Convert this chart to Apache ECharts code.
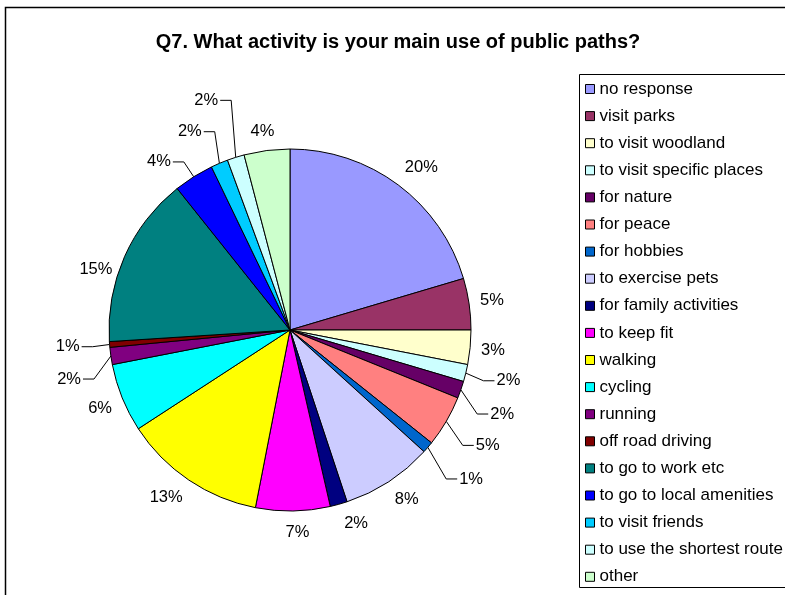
<!DOCTYPE html>
<html>
<head>
<meta charset="utf-8">
<script src="https://cdn.jsdelivr.net/npm/echarts@6/dist/echarts.min.js"></script>
<style>
  html, body { margin: 0; padding: 0; background: #ffffff; }
  #chart { width: 785px; height: 595px; }
</style>
</head>
<body>
<div id="chart"></div>
<script>
// Survey question 7: main use of public paths (number of responses per answer)
const activities = [
  'no response', 'visit parks', 'to visit woodland', 'to visit specific places',
  'for nature', 'for peace', 'for hobbies', 'to exercise pets',
  'for family activities', 'to keep fit', 'walking', 'cycling', 'running',
  'off road driving', 'to go to work etc', 'to go to local amenities',
  'to visit friends', 'to use the shortest route', 'other'
];
const responses = [40, 9, 6, 3, 3, 9, 2, 16, 3, 13, 25, 12, 3, 1, 30, 7, 3, 3, 8];

const sliceColors = [
  '#9999FF', '#993366', '#FFFFCC', '#CCFFFF', '#660066', '#FF8080', '#0066CC',
  '#CCCCFF', '#000080', '#FF00FF', '#FFFF00', '#00FFFF', '#800080', '#800000',
  '#008080', '#0000FF', '#00CCFF', '#CCFFFF', '#CCFFCC'
];

// Small slices whose labels are pulled away and joined by a leader line
const leaderLabels = [
  'to visit specific places', 'for nature', 'for peace', 'for hobbies',
  'running', 'off road driving', 'to go to local amenities',
  'to visit friends', 'to use the shortest route'
];
// Extra label offsets [dx, dy] in px, to keep crowded labels apart
const labelNudge = {
  'to visit specific places': [20, 1],
  'for nature': [19, 15],
  'for peace': [20, 10],
  'for hobbies': [23, 16],
  'for family activities': [8, 0],
  'to keep fit': [4, 2],
  'running': [-19, 19],
  'off road driving': [-19, 0],
  'to go to work etc': [-2, 24],
  'to go to local amenities': [-17, 3],
  'to visit friends': [-16, -13],
  'to use the shortest route': [-19, -38]
};

const CX = 290, CY = 330, RADIUS = 181, LABEL_R = 192;
const FONT = '"Liberation Sans", Arial, Helvetica, sans-serif';

const total = responses.reduce((a, b) => a + b, 0);
const midAngles = [];
let acc = 0;
responses.forEach(v => { midAngles.push((acc + v / 2) / total * 2 * Math.PI); acc += v; });
const clamp = v => Math.max(-1, Math.min(1, v));

const chart = echarts.init(document.getElementById('chart'), null, { renderer: 'canvas' });

chart.setOption({
  animation: false,
  backgroundColor: '#ffffff',
  title: {
    text: 'Q7. What activity is your main use of public paths?',
    left: 398,
    textAlign: 'center',
    top: 32,
    padding: 0,
    textStyle: { fontFamily: FONT, fontSize: 20, fontWeight: 'bold', color: '#000' }
  },
  graphic: [
    { type: 'rect', left: 3, top: 5, silent: true,
      shape: { width: 800, height: 600 },
      style: { fill: 'none', stroke: '#000', lineWidth: 1.5 } },
    { type: 'rect', left: 577, top: 72, silent: true,
      shape: { width: 220, height: 513 },
      style: { fill: 'none', stroke: '#000', lineWidth: 1 } }
  ],
  legend: {
    orient: 'vertical',
    left: 585,
    top: 80.5,
    padding: 0,
    itemGap: 10.1,
    itemWidth: 9,
    itemHeight: 9,
    icon: 'rect',
    selectedMode: false,
    data: activities,
    itemStyle: { borderColor: '#000', borderWidth: 1 },
    textStyle: { fontFamily: FONT, fontSize: 17, color: '#000' }
  },
  series: [{
    type: 'pie',
    center: [CX, CY],
    radius: RADIUS,
    startAngle: 90,
    clockwise: true,
    avoidLabelOverlap: false,
    silent: true,
    emphasis: { disabled: true },
    itemStyle: { borderColor: '#000', borderWidth: 1 },
    label: {
      show: true,
      position: 'outside',
      fontFamily: FONT,
      fontSize: 16.5,
      color: '#000',
      formatter: p => Math.round(p.percent) + '%'
    },
    labelLine: { show: false, lineStyle: { color: '#000', width: 1 } },
    labelLayout: function (p) {
      const i = p.dataIndex;
      const a = midAngles[i];
      const s = Math.sin(a), c = Math.cos(a);
      const w = p.labelRect.width, h = p.labelRect.height;
      const nudge = labelNudge[activities[i]] || [0, 0];
      const x = CX + LABEL_R * s + w / 2 * clamp(2 * s) + nudge[0];
      const y = CY - LABEL_R * c + h / 2 * clamp(-2 * c) + nudge[1];
      const out = { x: x, y: y, align: 'center', verticalAlign: 'middle' };
      if (leaderLabels.indexOf(activities[i]) >= 0) {
        const side = s >= 0 ? 1 : -1;
        const endX = x - side * (w / 2 + 2);
        out.labelLinePoints = [
          [CX + RADIUS * s, CY - RADIUS * c],
          [endX - side * 11, y],
          [endX, y]
        ];
      }
      return out;
    },
    data: activities.map((name, i) => ({
      name: name,
      value: responses[i],
      itemStyle: { color: sliceColors[i] },
      labelLine: { show: leaderLabels.indexOf(name) >= 0 }
    }))
  }]
});
</script>
</body>
</html>
